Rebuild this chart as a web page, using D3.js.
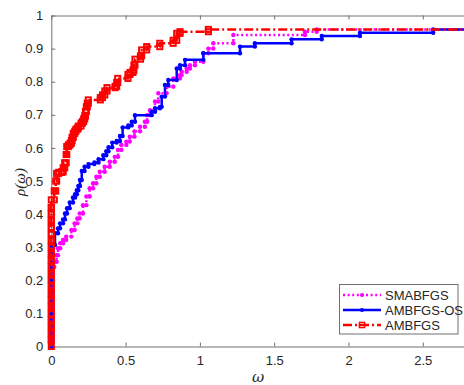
<!DOCTYPE html>
<html><head><meta charset="utf-8">
<script src="https://cdn.jsdelivr.net/npm/d3@7"></script>
<style>html,body{margin:0;padding:0;background:#fff;}svg{display:block;font-family:"Liberation Sans",Arial,Helvetica,sans-serif;}</style>
</head><body>
<svg id="chart" width="464" height="385"></svg>
<script>
// ---- data ----
const seriesNames = ["SMABFGS", "AMBFGS-OS", "AMBFGS"];
const xTicks = [0, 0.5, 1, 1.5, 2, 2.5];
const yTicks = [0, 0.1, 0.2, 0.3, 0.4, 0.5, 0.6, 0.7, 0.8, 0.9, 1];
const tauMax = 2.8;

const smTau = [0,0,0,0,0,0,0,0,0,0,0,0,
  0.02,0.036,0.045,0.06,0.079,0.1,0.135,0.157,0.175,0.191,0.213,0.236,0.258,0.281,0.303,0.326,0.359,0.393,0.427,0.449,0.471,0.505,0.528,0.56,0.597,0.63,0.645,0.664,0.698,0.72,0.776,0.821,0.866,0.877,0.911,0.933,0.967,1.023,1.057,1.09,1.225,1.707,1.786];
const smRho = [0.02,0.04,0.06,0.08,0.10,0.12,0.14,0.16,0.18,0.20,0.22,0.24,
  0.256,0.276,0.297,0.312,0.322,0.332,0.352,0.372,0.387,0.402,0.427,0.453,0.478,0.493,0.513,0.528,0.543,0.558,0.573,0.594,0.609,0.619,0.634,0.65,0.664,0.679,0.699,0.714,0.74,0.765,0.785,0.81,0.82,0.83,0.84,0.85,0.86,0.886,0.9,0.916,0.941,0.951,0.958];

const osTau = [0,0,0,0,0,0,0,0,0,0,0,
  0.025,0.045,0.059,0.079,0.092,0.106,0.124,0.146,0.16,0.172,0.182,0.193,0.205,0.224,0.25,0.29,0.318,0.35,0.37,0.385,0.41,0.44,0.462,0.48,0.518,0.541,0.563,0.676,0.698,0.731,0.743,0.765,0.787,0.844,0.866,0.9,1.023,1.27,1.37,1.617,1.82,2.077,2.57];
const osRho = [0.01,0.03,0.06,0.10,0.13,0.166,0.20,0.23,0.25,0.28,0.307,
  0.342,0.357,0.372,0.384,0.402,0.418,0.435,0.45,0.46,0.472,0.485,0.503,0.53,0.543,0.551,0.556,0.566,0.578,0.59,0.602,0.616,0.621,0.636,0.662,0.668,0.679,0.699,0.709,0.72,0.724,0.755,0.79,0.805,0.84,0.85,0.866,0.886,0.906,0.916,0.928,0.938,0.948,0.958];

const amTau = [0,0,0,0,0,0,0,0,0,0,0,0,0,0,0,0,0,0,0,0,0,0,
  0.02,0.03,0.036,0.05,0.07,0.08,0.09,0.1,0.104,0.115,0.126,0.135,0.14,0.148,0.158,0.165,0.175,0.182,0.2,0.21,0.218,0.225,0.23,0.236,0.242,0.249,0.33,0.345,0.36,0.375,0.43,0.44,0.447,0.516,0.53,0.55,0.556,0.563,0.6,0.608,0.642,0.73,0.82,0.844,0.866,1.057];
const amRho = [0.02,0.04,0.06,0.08,0.10,0.12,0.14,0.16,0.18,0.20,0.22,0.24,0.26,0.28,0.30,0.32,0.34,0.36,0.38,0.40,0.42,0.443,
  0.47,0.5,0.523,0.526,0.528,0.54,0.555,0.58,0.604,0.609,0.614,0.622,0.632,0.644,0.65,0.656,0.66,0.666,0.675,0.68,0.688,0.697,0.71,0.724,0.735,0.745,0.752,0.76,0.772,0.782,0.786,0.798,0.81,0.822,0.828,0.835,0.85,0.868,0.878,0.896,0.906,0.916,0.925,0.946,0.951,0.958];

// ---- layout ----
const svg = d3.select("#chart");
const x = d3.scaleLinear().domain([0, tauMax]).range([51.3, 51.3 + 148.6 * tauMax]);
const y = d3.scaleLinear().domain([0, 1]).range([346.5, 15.5]);
const axisCol = "#707070", textCol = "#262626";

function stairs(tau, rho) {
  const v = [[0, 0]];
  let prev = 0;
  for (let i = 0; i < tau.length; i++) {
    v.push([tau[i], prev]);
    v.push([tau[i], rho[i]]);
    prev = rho[i];
  }
  v.push([tauMax, prev]);
  return v;
}

// axes frame
const xAxisB = d3.axisBottom(x).tickValues(xTicks).tickSizeInner(-4).tickSizeOuter(0).tickPadding(9).tickFormat(d3.format("~g"));
const xAxisT = d3.axisTop(x).tickValues(xTicks).tickSizeInner(-4).tickSizeOuter(0).tickFormat("");
const yAxisL = d3.axisLeft(y).tickValues(yTicks).tickSizeInner(-4).tickSizeOuter(0).tickPadding(8).tickFormat(d3.format("~g"));

const gB = svg.append("g").attr("transform", `translate(0,${y(0)})`).call(xAxisB);
const gT = svg.append("g").attr("transform", `translate(0,${y(1)})`).call(xAxisT);
const gL = svg.append("g").attr("transform", `translate(${x(0)},0)`).call(yAxisL);
[gB, gT, gL].forEach(g => {
  g.selectAll("path.domain").attr("stroke", axisCol).attr("stroke-width", 1);
  g.selectAll(".tick line").attr("stroke", axisCol).attr("stroke-width", 1);
  g.selectAll(".tick text").attr("fill", textCol).attr("font-size", 13)
    .attr("font-family", "'Liberation Sans',Arial,Helvetica,sans-serif");
});

// labels
svg.append("text").attr("x", 258).attr("y", 382).attr("text-anchor", "middle")
  .attr("font-size", 15).attr("font-style", "italic").attr("fill", textCol)
  .attr("font-family", "'DejaVu Serif','Liberation Serif',serif").text("ω");
svg.append("text").attr("transform", "translate(25,182) rotate(-90)").attr("text-anchor", "middle")
  .attr("font-size", 15).attr("font-style", "italic").attr("fill", textCol)
  .attr("font-family", "'Liberation Serif','DejaVu Serif',serif").text("ρ(ω)");

// series
const styles = [
  {tau: smTau, rho: smRho, color: "#ff00ff", dash: "2,2.6", marker: "dot"},
  {tau: osTau, rho: osRho, color: "#0000ff", dash: null, marker: "dot"},
  {tau: amTau, rho: amRho, color: "#ff0000", dash: "9,3,2,3", marker: "square"}
];
const line = d3.line().x(d => x(d[0])).y(d => y(d[1]));

styles.forEach(s => {
  const v = stairs(s.tau, s.rho);
  const g = svg.append("g");
  g.append("path").attr("d", line(v)).attr("fill", "none").attr("stroke", s.color)
    .attr("stroke-width", 2.5).attr("stroke-dasharray", s.dash);
  const pts = v.slice(1, v.length - 1);
  if (s.marker === "dot") {
    g.selectAll("circle").data(pts).join("circle")
      .attr("cx", d => x(d[0])).attr("cy", d => y(d[1])).attr("r", 2.2).attr("fill", s.color);
  } else {
    g.selectAll("rect").data(pts).join("rect")
      .attr("x", d => x(d[0]) - 2.6).attr("y", d => y(d[1]) - 2.6).attr("width", 5.2).attr("height", 5.2)
      .attr("fill", "none").attr("stroke", s.color).attr("stroke-width", 1.9);
  }
});

// legend
const lg = svg.append("g");
lg.append("rect").attr("x", 339.5).attr("y", 284.5).attr("width", 118.5).attr("height", 49.5)
  .attr("fill", "#fff").attr("stroke", axisCol).attr("stroke-width", 1);
const legY = [295, 310, 325];
styles.forEach((s, i) => {
  lg.append("line").attr("x1", 343).attr("x2", 381).attr("y1", legY[i]).attr("y2", legY[i])
    .attr("stroke", s.color).attr("stroke-width", 2.5).attr("stroke-dasharray", s.dash);
  if (s.marker === "dot") {
    lg.append("circle").attr("cx", 362).attr("cy", legY[i]).attr("r", 2.1).attr("fill", s.color);
  } else {
    lg.append("rect").attr("x", 359.4).attr("y", legY[i] - 2.6).attr("width", 5.2).attr("height", 5.2)
      .attr("fill", "none").attr("stroke", s.color).attr("stroke-width", 1.4);
  }
  lg.append("text").attr("x", 385).attr("y", legY[i] + 4.5).attr("font-size", 13).attr("fill", textCol)
    .text(seriesNames[i]);
});
</script>
</body></html>
